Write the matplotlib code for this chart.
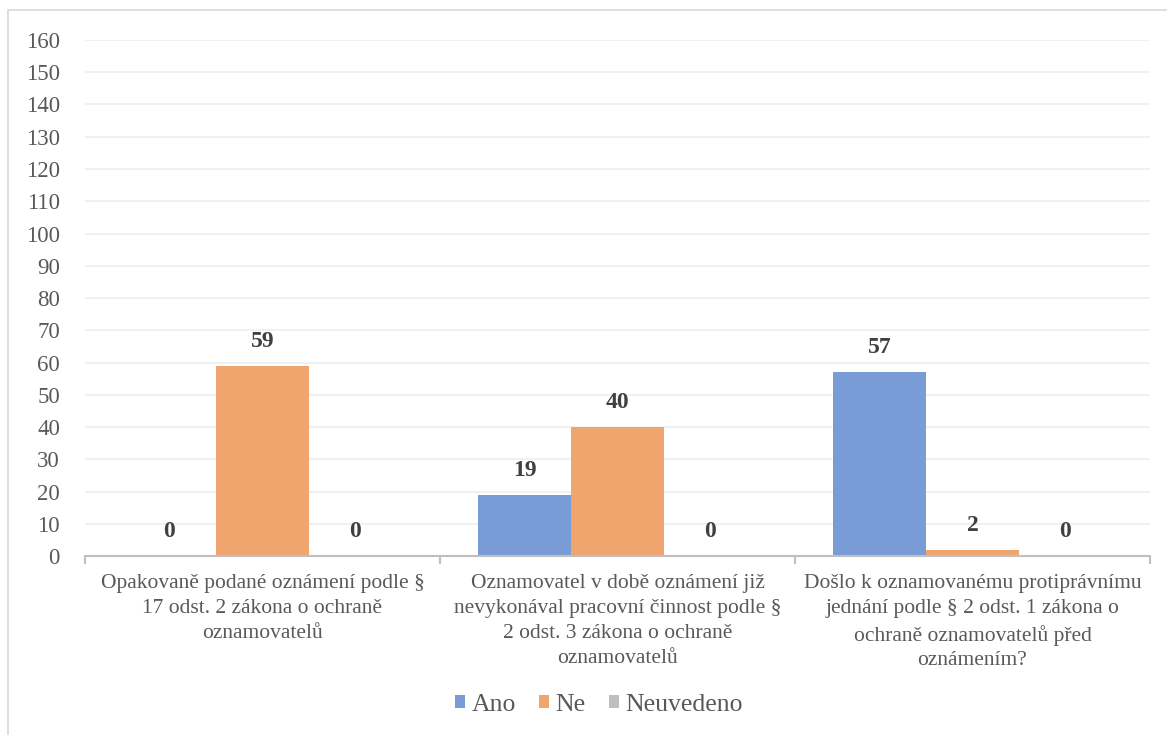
import numpy as np
import matplotlib.pyplot as plt
from matplotlib.patches import Rectangle

plt.rcParams['font.family'] = ['Liberation Serif', 'DejaVu Serif']

categories = [
    "Opakovaně podané oznámení podle §\n17 odst. 2 zákona o ochraně\noznamovatelů",
    "Oznamovatel v době oznámení již\nnevykonával pracovní činnost podle §\n2 odst. 3 zákona o ochraně\noznamovatelů",
    "Došlo k oznamovanému protiprávnímu\njednání podle § 2 odst. 1 zákona o\nochraně oznamovatelů před\noznámením?",
]
series = ["Ano", "Ne", "Neuvedeno"]
ano = [0, 19, 57]
ne = [59, 40, 2]
neuvedeno = [0, 0, 0]
colors = ["#7A9CD6", "#F0A46E", "#BFBFBF"]

fig = plt.figure(figsize=(11.67, 7.35), dpi=100)
ax = fig.add_axes([0.0728, 0.2435, 0.9126, 0.7021])

# ramecek grafu
fig.patches.append(Rectangle((8 / 1167, -0.1), 1.2, 1.1 - 10 / 735,
                             transform=fig.transFigure, fill=False,
                             edgecolor="#D9D9D9", linewidth=1.2))

x = np.arange(len(categories))
w = 0.262
for i, (name, vals) in enumerate(zip(series, [ano, ne, neuvedeno])):
    pos = x + (i - 1) * w
    ax.bar(pos, vals, width=w, color=colors[i], label=name, zorder=2)
    for p, v in zip(pos, vals):
        ax.annotate(str(v), (p, v), xytext=(0, 10), textcoords="offset points",
                    ha="center", va="bottom", fontsize=17, fontweight="bold",
                    color="#404040")

ax.set_xlim(-0.5, 2.5)
ax.set_ylim(0, 160)
ax.set_yticks(range(0, 161, 10))
ax.grid(axis="y", color="#EDEDED", linewidth=1.2, zorder=0)
ax.tick_params(axis="y", length=0, labelsize=16.5, labelcolor="#595959", pad=18)

ax.set_xticks([-0.5, 0.5, 1.5, 2.5])
ax.set_xticklabels([])
ax.set_xticks(x, minor=True)
ax.set_xticklabels(categories, minor=True, fontsize=15.5, color="#595959",
                   linespacing=1.42)
ax.tick_params(axis="x", which="major", length=6, color="#BFBFBF", width=1.5)
ax.tick_params(axis="x", which="minor", length=0, pad=13)

for s in ["top", "right", "left"]:
    ax.spines[s].set_visible(False)
ax.spines["bottom"].set_color("#BFBFBF")
ax.spines["bottom"].set_linewidth(1.5)

fig.legend(loc="center", bbox_to_anchor=(599 / 1167, 1 - 705 / 735), ncol=3,
           frameon=False, fontsize=18.5, labelcolor="#595959", handlelength=0.4,
           handleheight=0.4, handletextpad=0.25, columnspacing=0.9)

fig.savefig("out.png", dpi=100)
